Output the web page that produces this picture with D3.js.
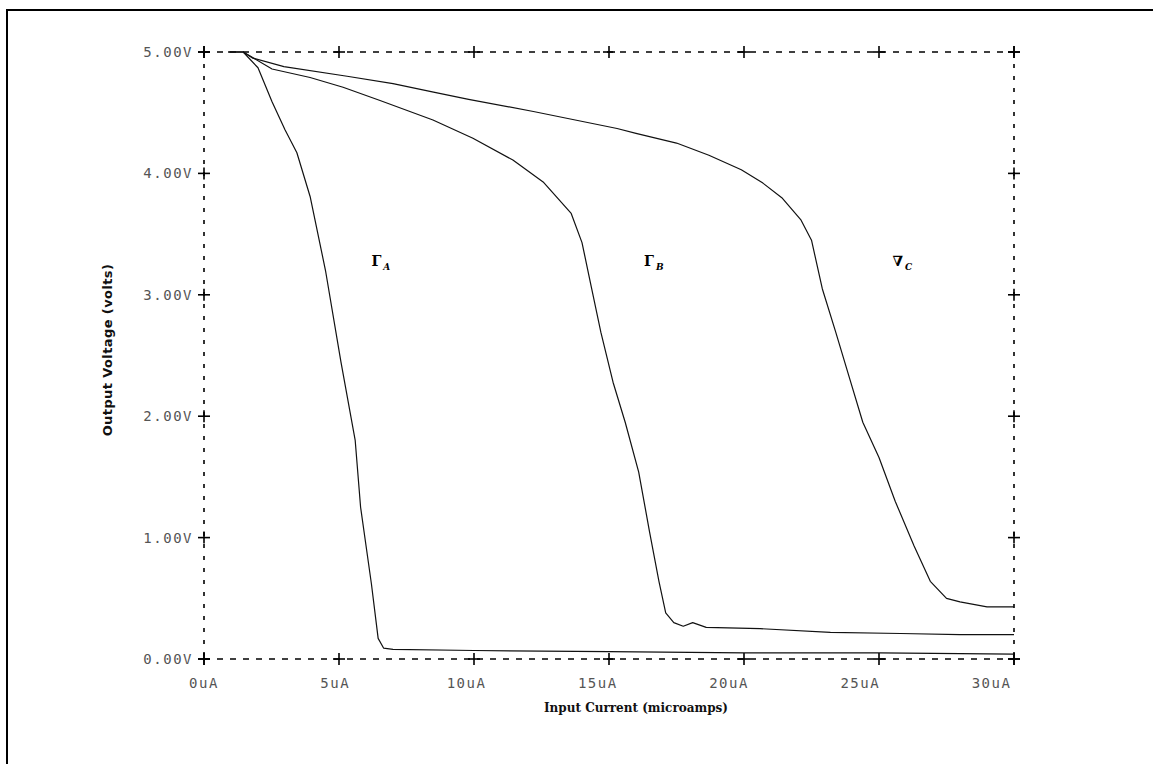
<!DOCTYPE html>
<html>
<head>
<meta charset="utf-8">
<script src="https://cdn.jsdelivr.net/npm/d3@7"></script>
<style>
  html, body { margin: 0; padding: 0; background: #fff; }
  svg { display: block; }
</style>
</head>
<body>
<svg id="chart" width="1153" height="764"></svg>
<script>
// ---- data ----
const xTicks = [0, 5, 10, 15, 20, 25, 30];
const xTickLabels = ["0uA", "5uA", "10uA", "15uA", "20uA", "25uA", "30uA"];
const yTicks = [0, 1, 2, 3, 4, 5];
const yTickLabels = ["0.00V", "1.00V", "2.00V", "3.00V", "4.00V", "5.00V"];

const currentA = [0.9, 1.45, 2.0, 2.52, 3.0, 3.44, 3.93, 4.5, 5.07, 5.6, 5.8, 6.2, 6.45, 6.65, 7.0, 10, 15, 20, 25, 30];
const voltageA = [5.0, 5.0, 4.87, 4.59, 4.36, 4.17, 3.81, 3.2, 2.45, 1.8, 1.25, 0.62, 0.17, 0.09, 0.08, 0.07, 0.06, 0.05, 0.05, 0.04];

const currentB = [0.9, 1.45, 2.52, 3.93, 5.15, 6.52, 8.48, 9.96, 11.44, 12.56, 13.6, 14.0, 14.35, 14.7, 15.15, 15.6, 16.1, 16.5, 16.85, 17.1, 17.4, 17.75, 18.1, 18.6, 20.6, 23.2, 25.8, 28.0, 30.0];
const voltageB = [5.0, 5.0, 4.86, 4.79, 4.71, 4.60, 4.44, 4.29, 4.11, 3.93, 3.67, 3.43, 3.06, 2.69, 2.28, 1.95, 1.54, 1.05, 0.64, 0.38, 0.30, 0.27, 0.30, 0.26, 0.25, 0.22, 0.21, 0.20, 0.20];

const currentC = [0.9, 1.45, 1.8, 2.96, 5.3, 7.0, 8.5, 9.8, 12.2, 15.3, 16.0, 17.5, 18.7, 19.9, 20.7, 21.4, 22.1, 22.5, 22.9, 23.4, 23.9, 24.4, 25.0, 25.6, 26.3, 26.9, 27.5, 28.0, 29.0, 30.0];
const voltageC = [5.0, 5.0, 4.95, 4.88, 4.80, 4.74, 4.67, 4.61, 4.51, 4.37, 4.33, 4.25, 4.15, 4.03, 3.92, 3.80, 3.62, 3.45, 3.05, 2.69, 2.32, 1.95, 1.66, 1.30, 0.93, 0.64, 0.50, 0.47, 0.43, 0.43];

const curveLabels = ["\u0393", "\u0393", "\u2207"];
const curveSubs = ["A", "B", "C"];
const curveLabelX = [6.2, 16.3, 25.5];
const curveLabelV = [3.24, 3.24, 3.24];

// ---- layout ----
const svg = d3.select("#chart");
const pLeft = 204, pRight = 1014, pTop = 52, pBottom = 659;

const x = d3.scaleLinear().domain([0, 30]).range([pLeft, pRight]);
const y = d3.scaleLinear().domain([0, 5]).range([pBottom, pTop]);

// outer page border (top and left visible)
svg.append("path")
  .attr("d", "M7,770 L7,10 L1160,10")
  .attr("fill", "none").attr("stroke", "#000").attr("stroke-width", 2);

// dashed frame
const frame = svg.append("g").attr("stroke", "#000").attr("stroke-width", 1.6);
frame.append("line").attr("x1", pLeft).attr("x2", pRight).attr("y1", pTop).attr("y2", pTop)
  .attr("stroke-dasharray", "6,7");
frame.append("line").attr("x1", pLeft).attr("x2", pRight).attr("y1", pBottom).attr("y2", pBottom)
  .attr("stroke-dasharray", "6,7");
frame.append("line").attr("x1", pLeft).attr("x2", pLeft).attr("y1", pTop).attr("y2", pBottom)
  .attr("stroke-dasharray", "4,8");
frame.append("line").attr("x1", pRight).attr("x2", pRight).attr("y1", pTop).attr("y2", pBottom)
  .attr("stroke-dasharray", "4,8");

// cross tick marks
function cross(g, cx, cy) {
  g.append("line").attr("x1", cx - 6).attr("x2", cx + 6).attr("y1", cy).attr("y2", cy);
  g.append("line").attr("x1", cx).attr("x2", cx).attr("y1", cy - 6).attr("y2", cy + 6);
}
const ticks = svg.append("g").attr("stroke", "#000").attr("stroke-width", 1.6);
xTicks.forEach(t => { cross(ticks, x(t), pTop); cross(ticks, x(t), pBottom); });
yTicks.forEach(t => { cross(ticks, pLeft, y(t)); cross(ticks, pRight, y(t)); });

// tick labels
const tickFont = "'DejaVu Sans Mono', monospace";
svg.append("g").selectAll("text").data(yTicks).join("text")
  .attr("x", pLeft - 11).attr("y", d => y(d)).attr("dy", "0.36em")
  .attr("text-anchor", "end")
  .attr("font-family", tickFont).attr("font-size", 14).attr("letter-spacing", 1.5)
  .attr("fill", "#555")
  .text((d, i) => yTickLabels[i]);
svg.append("g").selectAll("text").data(xTicks).join("text")
  .attr("x", d => x(d) - 0.75 * d).attr("y", pBottom + 29)
  .attr("text-anchor", "middle")
  .attr("font-family", tickFont).attr("font-size", 14).attr("letter-spacing", 1.5)
  .attr("fill", "#555")
  .text((d, i) => xTickLabels[i]);

// axis titles
svg.append("text")
  .attr("x", 636).attr("y", 712)
  .attr("text-anchor", "middle")
  .attr("font-family", "'DejaVu Serif', serif").attr("font-weight", "bold")
  .attr("font-size", 12).attr("fill", "#111")
  .text("Input Current (microamps)");
svg.append("text")
  .attr("transform", "translate(112,350) rotate(-90)")
  .attr("text-anchor", "middle")
  .attr("font-family", "'DejaVu Sans', sans-serif").attr("font-weight", "bold")
  .attr("font-size", 13).attr("letter-spacing", 0.4).attr("fill", "#111")
  .text("Output Voltage (volts)");

// curves
const line = d3.line().x(d => x(d[0])).y(d => y(d[1]));
const series = [
  d3.zip(currentA, voltageA),
  d3.zip(currentB, voltageB),
  d3.zip(currentC, voltageC)
];
svg.append("g").selectAll("path").data(series).join("path")
  .attr("d", line)
  .attr("fill", "none").attr("stroke", "#111").attr("stroke-width", 1.2)
  .attr("stroke-linejoin", "round");

// curve labels
const lab = svg.append("g");
curveLabels.forEach((s, i) => {
  const t = lab.append("text")
    .attr("x", x(curveLabelX[i])).attr("y", y(curveLabelV[i]))
    .attr("font-family", "'DejaVu Serif', serif").attr("font-weight", "bold")
    .attr("font-size", 14).attr("fill", "#000");
  t.append("tspan").text(s);
  t.append("tspan").attr("dy", 4).attr("dx", 2).attr("font-size", 9)
    .attr("font-style", "italic").text(curveSubs[i]);
});
</script>
</body>
</html>
